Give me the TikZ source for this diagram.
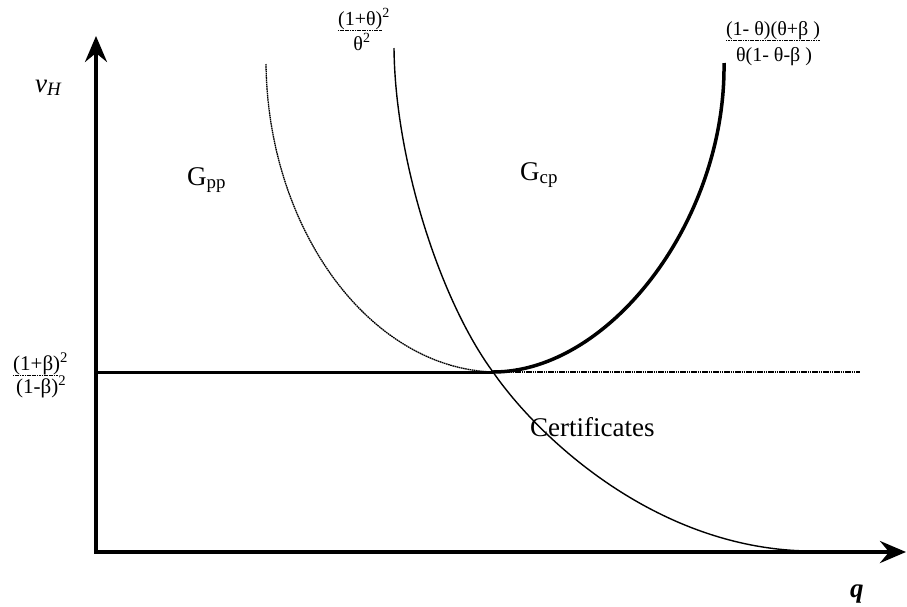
\documentclass[tikz,border=0pt]{standalone}
\usepackage{fontspec}
\setmainfont{Liberation Serif}
\usetikzlibrary{arrows.meta}
\tikzset{
  axisline/.style={line width=4pt, line join=miter,
    {Stealth[length=26pt,width=22pt,inset=9pt]}-{Stealth[length=26pt,width=22pt,inset=9pt]}},
  thickcurve/.style={line width=3.5pt},
  thincurve/.style={line width=1.4pt},
  finedot/.style={line width=1.3pt, dash pattern=on 1.6pt off 0.6pt},
  barline/.style={line width=0.9pt, dash pattern=on 1.2pt off 0.5pt},
  biglbl/.style={font=\fontsize{27}{30}\selectfont, inner sep=0pt},
  fraclbl/.style={font=\fontsize{20}{22}\selectfont, inner sep=0pt},
  leftfrac/.style={font=\fontsize{21}{23}\selectfont, inner sep=0pt}
}
\begin{document}
\begin{tikzpicture}[x=1pt,y=-1pt]
\useasboundingbox (0,0) rectangle (907,606);
% axes
\coordinate (O) at (96,552);
\coordinate (ytip) at (96,36);
\coordinate (xtip) at (906,552);
\draw[axisline] (ytip) -- (O) -- (xtip);
% horizontal level
\coordinate (L) at (96,372);
\coordinate (P) at (493,372);
\coordinate (R) at (860,372);
\draw[line width=3pt] (L) -- (P);
\draw[finedot] (P) -- (R);
% G_pp boundary (fine dotted)
\coordinate (Gtop) at (266,64);
\draw[finedot] (Gtop) .. controls (268,230) and (370,368) .. (P);
% descending thin curve
\coordinate (Ctop) at (394,48);
\coordinate (Cend) at (813,551);
\draw[thincurve] (Ctop) .. controls (395,160) and (440,300) .. (P)
  .. controls (540,440) and (660,551) .. (Cend);
% thick curve
\coordinate (Ttop) at (724,63);
\draw[thickcurve] (P) .. controls (610,372) and (726,220) .. (Ttop);
% labels
\node[biglbl, anchor=base west] (vh) at (35,92) {\itshape v\textsubscript{H}};
\node[biglbl, anchor=base west] (q) at (850,597) {\bfseries\itshape q};
\node[biglbl, anchor=base west] (gpp) at (187,185) {G\textsubscript{pp}};
\node[biglbl, anchor=base west] (gcp) at (520,180) {G\textsubscript{cp}};
\node[biglbl, anchor=base west] (cert) at (530,436) {Certificates};
% left fraction
\node[leftfrac, anchor=base west] (lnum) at (13,370) {(1+β)\textsuperscript{2}};
\node[leftfrac, anchor=base west] (lden) at (16,393) {(1-β)\textsuperscript{2}};
\draw[barline] ([yshift=-1pt]lnum.south west) -- ([xshift=-10pt,yshift=-1pt]lnum.south east);
% middle fraction
\node[fraclbl, anchor=base] (mnum) at (364,25) {(1+θ)\textsuperscript{2}};
\node[fraclbl, anchor=base] (mden) at (362,50) {θ\textsuperscript{2}};
\draw[barline] ([yshift=-1pt]mnum.south west) -- ([xshift=-8pt,yshift=-1pt]mnum.south east);
% right fraction
\node[fraclbl, anchor=base] (rnum) at (773,35) {(1- θ)(θ+β )};
\node[fraclbl, anchor=base] (rden) at (774,61) {θ(1- θ-β )};
\draw[barline] ([yshift=-1pt]rnum.south west) -- ([yshift=-1pt]rnum.south east);
\end{tikzpicture}
\end{document}
